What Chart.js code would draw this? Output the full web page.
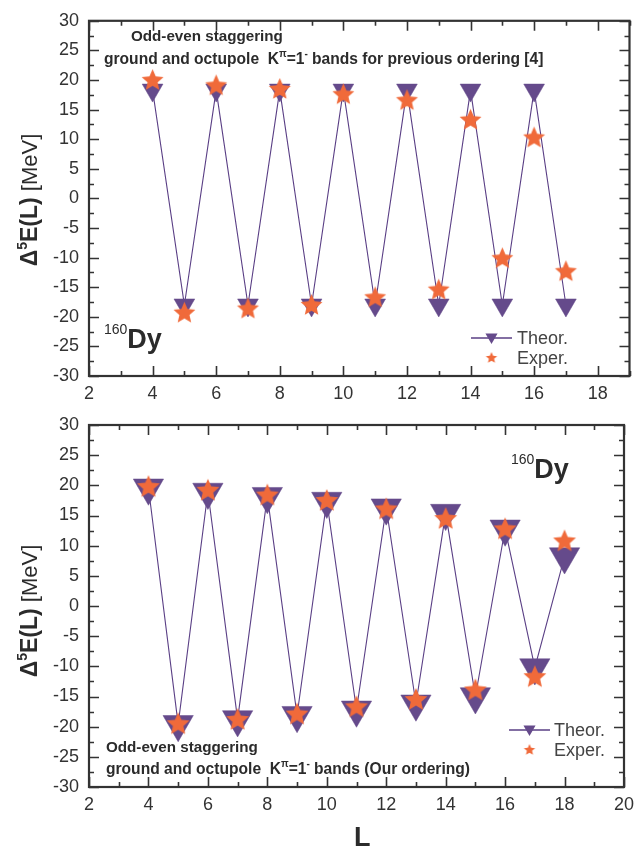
<!DOCTYPE html>
<html><head><meta charset="utf-8">
<script src="https://cdn.jsdelivr.net/npm/chart.js@4.4.1/dist/chart.umd.min.js"></script>
<style>
html,body{margin:0;padding:0;background:#fff;}
#wrap{position:relative;width:642px;height:849px;overflow:hidden;}
canvas{position:absolute;left:0;}
</style></head><body>
<div id="wrap">
<canvas id="c1" width="642" height="420" style="top:0;width:642px;height:420px"></canvas>
<canvas id="c2" width="642" height="449" style="top:400px;width:642px;height:449px"></canvas>
</div>
<script>
// ---------- data ----------
const L_top = [4,5,6,7,8,9,10,11,12,13,14,15,16,17];
const theorTop = [18.3,-18.0,18.3,-18.0,18.3,-18.0,18.3,-18.0,18.3,-18.0,18.3,-18.0,18.3,-18.0];
const experTop = [19.9,-19.4,19.0,-18.7,18.4,-18.1,17.5,-16.8,16.5,-15.5,13.2,-10.2,10.2,-12.4];

const L_bot = [4,5,6,7,8,9,10,11,12,13,14,15,16,17,18];
const theorBot = [19.6,-19.6,18.9,-18.8,18.2,-18.1,17.4,-17.2,16.3,-16.2,15.4,-15.0,12.8,-10.2,8.2];
const experBot = [19.7,-19.6,19.1,-18.9,18.3,-18.0,17.4,-16.8,16.0,-15.6,14.4,-14.0,12.7,-11.8,10.7];

const yTicks = [-30,-25,-20,-15,-10,-5,0,5,10,15,20,25,30];
const xTicksTop = [2,4,6,8,10,12,14,16,18];
const xTicksBot = [2,4,6,8,10,12,14,16,18,20];

// ---------- styles ----------
const TRI = '#654a8b';
const LINE = '#5a3f85';
const STAR = '#f06a3a';
const AX = '#333333';
const FONT = "'Liberation Sans', Arial, sans-serif";

function makeStar(r, color){
  const s = Math.ceil(r*2+2);
  const c = document.createElement('canvas'); c.width = s; c.height = s;
  const g = c.getContext('2d'); g.fillStyle = color;
  g.beginPath();
  const cx = s/2, cy = s/2, ri = r*0.46;
  for(let i=0;i<10;i++){
    const rr = i%2 ? ri : r;
    const a = -Math.PI/2 + i*Math.PI/5;
    g.lineTo(cx+rr*Math.cos(a), cy+rr*Math.sin(a));
  }
  g.closePath(); g.fill();
  return c;
}

function drawTri(ctx, x, y, r, color){
  ctx.beginPath();
  ctx.moveTo(x, y + r);
  ctx.lineTo(x - r*Math.sin(Math.PI/3), y - r/2);
  ctx.lineTo(x + r*Math.sin(Math.PI/3), y - r/2);
  ctx.closePath(); ctx.fillStyle = color; ctx.fill();
}

function drawRich(ctx, parts, x, y, color){
  ctx.fillStyle = color; ctx.textAlign = 'left'; ctx.textBaseline = 'alphabetic';
  let cx = x;
  for(const p of parts){
    ctx.font = p.font;
    ctx.fillText(p.t, cx, y + (p.dy||0));
    cx += ctx.measureText(p.t).width;
  }
  return cx - x;
}
function richWidth(ctx, parts){
  let w = 0;
  for(const p of parts){ ctx.font = p.font; w += ctx.measureText(p.t).width; }
  return w;
}

const framePlugin = {
  id: 'frame',
  afterDraw(chart, args, o){
    const ctx = chart.ctx, a = chart.chartArea, xs = chart.scales.x, ys = chart.scales.y;
    ctx.save();
    ctx.strokeStyle = AX;
    ctx.lineWidth = 1.6;
    for(let v = xs.min; v <= xs.max + 1e-9; v += 1){
      const px = Math.round(xs.getPixelForValue(v)) + 0.5;
      const len = (v % 2 === 0) ? 10 : 5;
      ctx.beginPath();
      ctx.moveTo(px, a.bottom); ctx.lineTo(px, a.bottom - len);
      ctx.moveTo(px, a.top); ctx.lineTo(px, a.top + len);
      ctx.stroke();
    }
    for(let v = ys.min; v <= ys.max + 1e-9; v += 2.5){
      const py = Math.round(ys.getPixelForValue(v)) + 0.5;
      const len = (Math.abs(v % 5) < 1e-9) ? 10 : 5;
      ctx.beginPath();
      ctx.moveTo(a.left, py); ctx.lineTo(a.left + len, py);
      ctx.moveTo(a.right, py); ctx.lineTo(a.right - len, py);
      ctx.stroke();
    }
    ctx.lineWidth = 2.2;
    ctx.strokeRect(a.left, a.top, a.right - a.left, a.bottom - a.top);

    for(const t of (o.texts || [])){
      drawRich(ctx, t.parts, t.x, t.y, t.color || '#2b2b2b');
    }
    const yt = o.yTitle;
    if(yt){
      ctx.save();
      ctx.translate(yt.x, yt.y);
      ctx.rotate(-Math.PI/2);
      const w = richWidth(ctx, yt.parts);
      drawRich(ctx, yt.parts, -w/2, 0, '#2b2b2b');
      ctx.restore();
    }
    const lg = o.legend;
    if(lg){
      ctx.strokeStyle = LINE; ctx.lineWidth = 1.3;
      ctx.beginPath(); ctx.moveTo(lg.x1, lg.y1); ctx.lineTo(lg.x2, lg.y1); ctx.stroke();
      drawTri(ctx, (lg.x1+lg.x2)/2, lg.y1 - 1, 7, TRI);
      const st = makeStar(6, STAR);
      ctx.drawImage(st, (lg.x1+lg.x2)/2 - st.width/2, lg.y2 - st.height/2);
      ctx.font = "18px " + FONT; ctx.fillStyle = '#444'; ctx.textAlign = 'left'; ctx.textBaseline = 'middle';
      ctx.fillText('Theor.', lg.tx, lg.y1 + 1);
      ctx.fillText('Exper.', lg.tx, lg.y2 + 1);
    }
    ctx.restore();
  }
};

function yTitleParts(){
  return [
    {t:'\u0394', font:"bold 23px " + FONT},
    {t:'5', font:"bold 14px " + FONT, dy:-10},
    {t:'E(L)', font:"bold 23px " + FONT},
    {t:' [MeV]', font:"22px " + FONT}
  ];
}
function titleLine2(tail){
  const b = "bold 15.6px " + FONT, s = "bold 10px " + FONT;
  return [
    {t:'ground and octupole  K', font:b},
    {t:'\u03c0', font:s, dy:-7},
    {t:'=1', font:b},
    {t:'-', font:s, dy:-7},
    {t:tail, font:b}
  ];
}
function dyParts(){
  return [
    {t:'160', font:"14px " + FONT, dy:-14},
    {t:'Dy', font:"bold 27px " + FONT}
  ];
}

function makeChart(id, Ls, theor, exper, xMax, xTicks, triR, starR, area, plugOpts){
  const ctx = document.getElementById(id);
  const H = ctx.height;
  return new Chart(ctx, {
    type: 'scatter',
    data: {
      datasets: [
        {
          label: 'Exper.',
          data: Ls.map((l,i)=>({x:l, y:exper[i]})),
          pointStyle: makeStar(starR, STAR),
          pointRadius: starR, pointHoverRadius: starR,
          showLine: false,
          order: 0
        },
        {
          label: 'Theor.',
          data: Ls.map((l,i)=>({x:l, y:theor[i]})),
          showLine: true,
          borderColor: LINE, borderWidth: 1.1,
          pointStyle: 'triangle', rotation: 180,
          pointRadius: triR, pointHoverRadius: triR,
          pointBackgroundColor: TRI, pointBorderColor: TRI, pointBorderWidth: 0.5,
          order: 1
        }
      ]
    },
    options: {
      responsive: false, animation: false, devicePixelRatio: 1,
      layout: { padding: { left: 0, right: 642 - area.right, top: area.top, bottom: 0 } },
      plugins: { legend: {display:false}, tooltip: {enabled:false}, frame: plugOpts },
      scales: {
        x: {
          type: 'linear', min: 2, max: xMax,
          afterBuildTicks: s => { s.ticks = xTicks.map(v=>({value:v})); },
          afterFit: s => { s.height = H - area.bottom; },
          grid: { display: false, drawTicks: false },
          border: { display: false },
          ticks: { color: AX, font: { family: FONT, size: 18 }, padding: 7, maxRotation: 0, autoSkip: false }
        },
        y: {
          type: 'linear', min: -30, max: 30,
          afterBuildTicks: s => { s.ticks = yTicks.map(v=>({value:v})); },
          afterFit: s => { s.width = area.left; },
          grid: { display: false, drawTicks: false },
          border: { display: false },
          ticks: { color: AX, font: { family: FONT, size: 18 }, padding: 10 }
        }
      }
    },
    plugins: [framePlugin]
  });
}

makeChart('c1', L_top, theorTop, experTop, 19, xTicksTop, 12, 11.5,
  {left: 89, right: 632, top: 14, bottom: 376},
  {
    texts: [
      {parts:[{t:'Odd-even staggering', font:"bold 15.2px " + FONT}], x:131, y:41},
      {parts: titleLine2(' bands for previous ordering [4]'), x:104, y:64},
      {parts: dyParts(), x:104, y:348}
    ],
    yTitle: {x: 37, y: 200, parts: yTitleParts()},
    legend: {x1:471, x2:512, y1:338, y2:358, tx:517}
  });

makeChart('c2', L_bot, theorBot, experBot, 20, xTicksBot, 17.5, 12,
  {left: 89, right: 631, top: 25, bottom: 387},
  {
    texts: [
      {parts: dyParts(), x:511, y:78},
      {parts:[{t:'Odd-even staggering', font:"bold 15.2px " + FONT}], x:106, y:352},
      {parts: titleLine2(' bands (Our ordering)'), x:106, y:374},
      {parts:[{t:'L', font:"bold 27px " + FONT}], x:354, y:446}
    ],
    yTitle: {x: 37, y: 211, parts: yTitleParts()},
    legend: {x1:509, x2:550, y1:330, y2:350, tx:554}
  });
</script>
</body></html>
